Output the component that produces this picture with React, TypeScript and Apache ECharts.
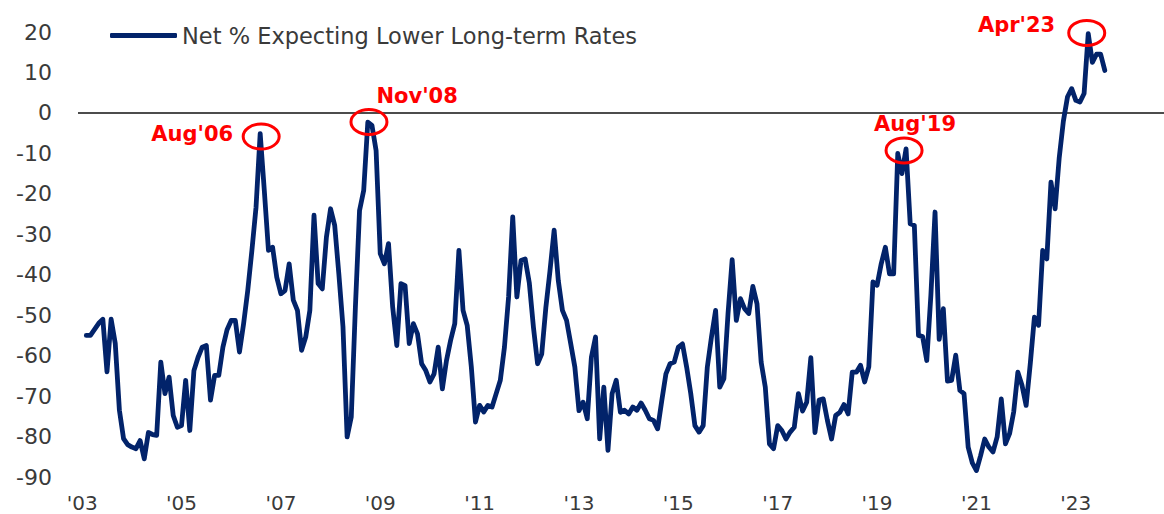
import React, { useEffect, useRef } from "react";
import * as echarts from "echarts";

// Monthly series, first value = Feb 2003 (month index 1, Jan 2003 = 0)
const FIRST_MONTH_INDEX = 1;
const netLowerLongRates: number[] = [
  -55, -55, -53.5, -52, -51, -64, -51, -57, -73.5, -80.5, -82,
  -82.6, -83, -81, -85.5, -79, -79.5, -79.7, -61.6, -69.4, -65.3, -74.8, -77.7,
  -77.3, -66.1, -78.5, -63.7, -60.4, -57.9, -57.5, -71, -64.9, -64.9, -57.9, -53.6,
  -51.3, -51.3, -59.1, -52.1, -43.9, -34, -23.3, -5.1, -19.2, -34, -33.2, -40.6,
  -44.7, -43.9, -37.3, -46.3, -48.8, -58.7, -55.4, -48.8, -25.3, -42.2, -43.5, -30.7,
  -23.7, -27.8, -39.8, -52.9, -80.1, -75.2, -48, -24.1, -19.2, -2.3, -3.1, -9.3,
  -34.8, -37.3, -32.3, -48, -57.5, -42.2, -42.7, -57, -52.1, -54.6, -62, -63.7,
  -66.5, -64.5, -57.9, -68.2, -61.2, -56.2, -52.1, -34, -48.8, -52.5, -62.8, -76.4,
  -72.3, -73.9, -72.3, -72.7, -69.4, -66.1, -57.9, -45.5, -25.7, -45.5, -36.5, -36.1,
  -42, -53, -62, -59.6, -48.1, -39, -29, -41.4, -48.8, -51.3, -57, -62.8,
  -73.6, -71.5, -75.6, -60.4, -55.4, -80.6, -67.8, -83.4, -69.4, -66.1, -74, -73.5,
  -74.4, -72.7, -73.5, -71.7, -73.5, -75.6, -76, -78.1, -71.1, -64.5, -62, -61.6,
  -57.9, -57.1, -62.8, -69.4, -77.3, -78.9, -77.3, -62.8, -55.4, -48.8, -67.8, -65.7,
  -49.6, -36.3, -51.3, -45.9, -48.4, -49.6, -42.9, -47.2, -61.6, -67.8, -81.8, -83,
  -77.3, -78.5, -80.6, -78.9, -77.7, -69.4, -73.7, -71.5, -60.5, -79, -71, -70.7,
  -76, -80.6, -74.8, -74, -72.1, -74.4, -64.1, -64.1, -62.4, -66.5, -62.8, -41.8,
  -42.6, -37.3, -33.2, -39.8, -39.8, -10, -15, -8.9, -27.4, -27.8, -55, -55.3,
  -61.2, -45, -24.5, -56, -48.4, -66.3, -66.1, -59.9, -68.6, -69.4, -82.6, -86.5,
  -88.4, -84.7, -80.6, -82.6, -83.8, -80.1, -70.7, -81.8, -79.3, -73.9, -64.1, -67.3,
  -72.3, -62, -50.5, -52.5, -34, -36.1, -17.1, -23.7, -11, -2, 4, 6,
  3.1, 2.7, 4.8, 19.6, 12.5, 14.5, 14.5, 10.5,
];

const xTickMonths = [0, 24, 48, 72, 96, 120, 144, 168, 192, 216, 240];
const xTickLabels = ["'03", "'05", "'07", "'09", "'11", "'13", "'15", "'17", "'19", "'21", "'23"];
const yTicks = [20, 10, 0, -10, -20, -30, -40, -50, -60, -70, -80, -90];

const SERIES_NAME = "Net % Expecting Lower Long-term Rates";

const annotations = [
  { label: "Aug'06", month: 43, dx: 1, dy: 3, tx: -28, ty: -3, align: "right" },
  { label: "Nov'08", month: 70, dx: -3, dy: -3.5, tx: 7.5, ty: -25.5, align: "left" },
  { label: "Aug'19", month: 199, dx: -2, dy: 1.5, tx: 11, ty: -26, align: "center" },
  { label: "Apr'23", month: 243, dx: -1.5, dy: -0.7, tx: -31.5, ty: -7.5, align: "right" },
];

export default function App() {
  const ref = useRef<HTMLDivElement>(null);
  useEffect(() => {
    if (!ref.current) return;
    const chart = echarts.init(ref.current, undefined, { renderer: "svg" });
    const data = netLowerLongRates.map((v, i) => [i + FIRST_MONTH_INDEX, v]);
    const textColor = "#3a3a3a";
    const navy = "#02236a";
    chart.setOption({
      animation: false,
      backgroundColor: "#ffffff",
      grid: { left: 78, right: 0, top: 32, bottom: 37 },
      legend: {
        show: true,
        left: 110,
        top: 24,
        padding: 0,
        icon: "roundRect",
        itemWidth: 67,
        itemHeight: 5,
        itemStyle: { color: navy },
        textStyle: { fontFamily: "DejaVu Sans", fontSize: 22.5, color: textColor },
        data: [SERIES_NAME],
      },
      xAxis: {
        type: "value",
        min: -1,
        max: 261.3,
        axisLine: { show: false },
        axisTick: { show: false },
        splitLine: { show: false },
        axisLabel: {
          customValues: xTickMonths,
          margin: 16,
          fontFamily: "DejaVu Sans",
          fontSize: 20,
          color: textColor,
          formatter: (v: number) => {
            const idx = xTickMonths.indexOf(Math.round(v));
            return idx >= 0 ? xTickLabels[idx] : "";
          },
        },
      },
      yAxis: {
        type: "value",
        min: -90,
        max: 20,
        interval: 10,
        axisLine: { show: false },
        axisTick: { show: false },
        splitLine: { show: false },
        axisLabel: {
          margin: 26,
          fontFamily: "DejaVu Sans",
          fontSize: 22,
          color: textColor,
          formatter: (v: number) => (yTicks.includes(v) ? String(v) : ""),
        },
      },
      series: [
        {
          name: SERIES_NAME,
          type: "line",
          data,
          showSymbol: false,
          symbol: "none",
          color: navy,
          lineStyle: { width: 4.8, color: navy, cap: "round", join: "round" },
          z: 3,
          markLine: {
            silent: true,
            symbol: ["none", "none"],
            label: { show: false },
            lineStyle: { color: "#111111", width: 1.5, type: "solid" },
            data: [{ yAxis: 0 }],
            z: 2,
          },
        },
      ],
    });

    const graphics: any[] = [];
    annotations.forEach((a) => {
      const v = netLowerLongRates[a.month - FIRST_MONTH_INDEX];
      const p = chart.convertToPixel({ seriesIndex: 0 }, [a.month, v]) as number[];
      const cx = p[0] + a.dx;
      const cy = p[1] + a.dy;
      graphics.push({
        type: "ellipse",
        shape: { cx, cy, rx: 18, ry: 12.5 },
        style: { fill: "none", stroke: "#ff0000", lineWidth: 3 },
        z: 10,
      });
      graphics.push({
        type: "text",
        x: cx + a.tx,
        y: cy + a.ty,
        style: {
          text: a.label,
          fill: "#ff0000",
          fontFamily: "DejaVu Sans",
          fontWeight: "bold",
          fontSize: 21,
          align: a.align,
          verticalAlign: "middle",
        },
        z: 10,
      });
    });
    chart.setOption({ graphic: graphics });

    return () => chart.dispose();
  }, []);
  return (
    <div
      ref={ref}
      style={{ position: "fixed", left: 0, top: 0, width: 1164, height: 514 }}
    />
  );
}
